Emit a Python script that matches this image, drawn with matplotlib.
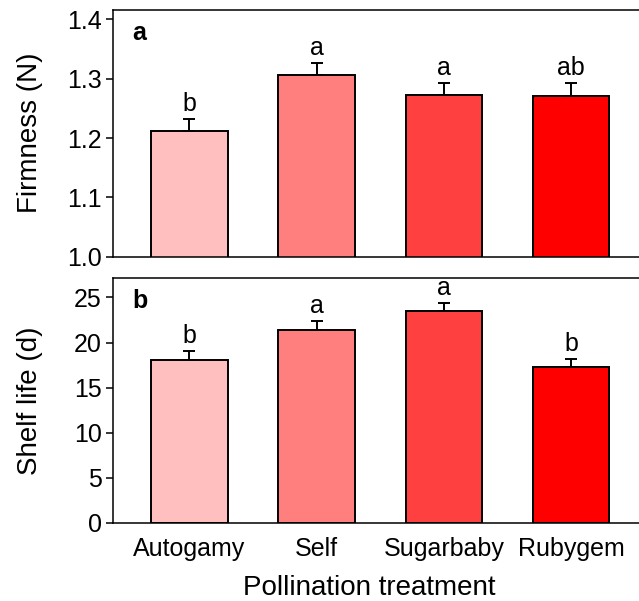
import numpy as np
import matplotlib
matplotlib.use('Agg')
import matplotlib.pyplot as plt

plt.rcParams['font.family'] = ['Liberation Sans', 'DejaVu Sans']

categories = ['Autogamy', 'Self', 'Sugarbaby', 'Rubygem']
colors = ['#FFBFBF', '#FF7F7F', '#FF4040', '#FF0000']

firmness = [1.211, 1.307, 1.273, 1.271]
firmness_err = [0.021, 0.020, 0.020, 0.021]
firmness_letters = ['b', 'a', 'a', 'ab']

shelf = [18.1, 21.4, 23.5, 17.3]
shelf_err = [1.0, 1.0, 0.9, 0.9]
shelf_letters = ['b', 'a', 'a', 'b']

fig = plt.figure(figsize=(6.39, 6.01), dpi=100)
ax1 = fig.add_axes([0.177, 0.573, 0.836, 0.411])
ax2 = fig.add_axes([0.177, 0.130, 0.836, 0.408])

x = np.arange(len(categories))


def draw(ax, vals, errs, letters, ylim, yticks, ylabel, panel, fmt, gap):
    ax.bar(x, vals, width=0.6, color=colors, edgecolor='black', linewidth=1.4, zorder=2)
    ax.errorbar(x, vals, yerr=[np.zeros(len(vals)), errs], fmt='none', ecolor='black',
                elinewidth=1.4, capsize=4.3, capthick=1.4, zorder=3)
    for xi, v, e, l in zip(x, vals, errs, letters):
        ax.text(xi, v + e + gap, l, ha='center', va='bottom', fontsize=18)
    ax.set_xlim(-0.6, 3.6)
    ax.set_ylim(*ylim)
    ax.set_yticks(yticks)
    ax.set_yticklabels([fmt.format(t) for t in yticks], fontsize=18)
    ax.set_ylabel(ylabel, fontsize=20)
    ax.yaxis.set_label_coords(-0.132, 0.5)
    ax.tick_params(axis='y', direction='out', length=5, width=1.1, pad=3)
    ax.tick_params(axis='x', length=0)
    for s in ax.spines.values():
        s.set_linewidth(1.1)
    ax.text(0.036, 0.955, panel, transform=ax.transAxes, fontsize=18, fontweight='bold',
            ha='left', va='top')


draw(ax1, firmness, firmness_err, firmness_letters, (1.0, 1.4165),
     [1.0, 1.1, 1.2, 1.3, 1.4], 'Firmness (N)', 'a', '{:.1f}', 0.005)
ax1.set_xticks([])

draw(ax2, shelf, shelf_err, shelf_letters, (0, 27.2),
     [0, 5, 10, 15, 20, 25], 'Shelf life (d)', 'b', '{:.0f}', 0.35)
ax2.set_xticks(x)
ax2.set_xticklabels(categories, fontsize=18)
ax2.tick_params(axis='x', pad=10)

fig.text(369 / 639, 1 - 595 / 601, 'Pollination treatment', fontsize=20,
         ha='center', va='baseline')

fig.savefig('out.png', dpi=100)
